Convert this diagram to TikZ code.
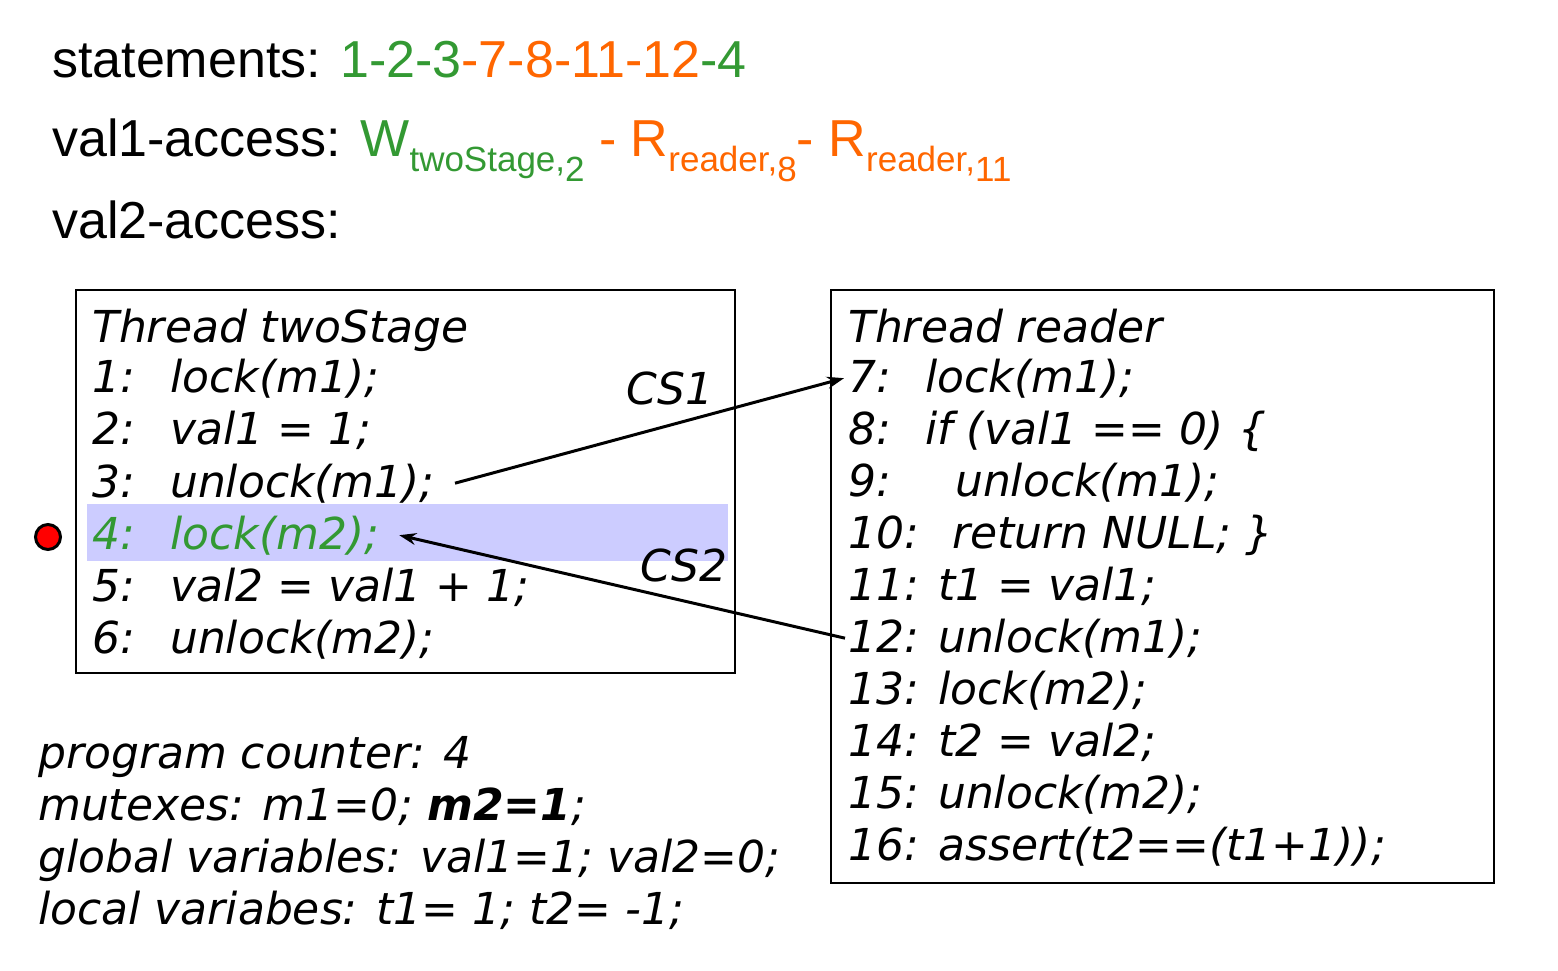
\documentclass[tikz,border=0pt]{standalone}
\usepackage{fontspec}
\setmainfont{Liberation Sans}
\newfontfamily\codefont{DejaVu Sans}
\usetikzlibrary{arrows.meta}

\definecolor{stmtgreen}{RGB}{51,153,51}
\definecolor{stmtorange}{RGB}{255,102,0}
\definecolor{curline}{RGB}{204,204,255}

\newcommand\lnum[2]{\makebox[#1pt][l]{#2}}
\newcommand\accsub[2]{\raisebox{-15pt}{\fontsize{35}{35}\selectfont #1\raisebox{-10pt}{#2}}}

\begin{document}
\begin{tikzpicture}[x=1pt,y=-1pt,
    head/.style={anchor=base west,inner sep=0pt,font=\fontsize{52}{60}\selectfont},
    code/.style={anchor=base west,inner sep=0pt,font=\codefont\itshape\fontsize{44}{52}\selectfont},
    flow/.style={line width=3pt,-{Stealth[length=17pt,width=12pt]}}]
        \useasboundingbox (0,0) rectangle (1558,971);

        % what has run so far
        \node[head] (stmts) at (52,78) {statements: {\color{stmtgreen}1-2-3}{\color{stmtorange}-7-8-11-12}{\color{stmtgreen}-4}};
        \node[head] (acc1) at (52,157) {val1-access: {\color{stmtgreen}W\accsub{twoStage,}{2}} {\color{stmtorange}- R\accsub{reader,}{8}- R\accsub{reader,}{11}}};
        \node[head] (acc2) at (52,238) {val2-access:};

        % thread twoStage
        \fill[curline] (87,504) rectangle (728,561);
        \draw[line width=1.5pt] (76,290) rectangle (735,673);
        \filldraw[fill=red,draw=black,line width=3pt] (48,537) circle (12.5pt);
        \node[code] (ttwo) at (92,342) {Thread twoStage};
        \node[code] (l1) at (92,392) {\lnum{78}{1:}lock(m1);};
        \node[code] (l2) at (92,444) {\lnum{78}{2:}val1 = 1;};
        \node[code] (l3) at (92,497) {\lnum{78}{3:}unlock(m1);};
        \node[code,text=stmtgreen] (l4) at (92,549) {\lnum{78}{4:}lock(m2);};
        \node[code] (l5) at (92,601) {\lnum{78}{5:}val2 = val1 + 1;};
        \node[code] (l6) at (92,653) {\lnum{78}{6:}unlock(m2);};

        % thread reader
        \draw[line width=1.5pt] (831,290) rectangle (1494,883);
        \node[code] (trd) at (848,342) {Thread reader};
        \node[code] (l7) at (848,392) {\lnum{77}{7:}lock(m1);};
        \node[code] (l8) at (848,444) {\lnum{77}{8:}if (val1 == 0) \{};
        \node[code] (l9) at (848,496) {\lnum{107}{9:}unlock(m1);};
        \node[code] (l10) at (848,548) {\lnum{104}{10:}return NULL; \}};
        \node[code] (l11) at (848,600) {\lnum{90}{11:}t1 = val1;};
        \node[code] (l12) at (848,652) {\lnum{90}{12:}unlock(m1);};
        \node[code] (l13) at (848,704) {\lnum{90}{13:}lock(m2);};
        \node[code] (l14) at (848,756) {\lnum{90}{14:}t2 = val2;};
        \node[code] (l15) at (848,808) {\lnum{90}{15:}unlock(m2);};
        \node[code] (l16) at (848,860) {\lnum{90}{16:}assert(t2==(t1+1));};

        % context switches
        \draw[flow] ([xshift=20pt]l3.east) -- ([xshift=-4pt]l7.west);
        \draw[flow] ([xshift=-3pt]l12.west) -- ([xshift=20pt]l4.east);
        \node[code] (cs1) at (626,404) {CS1};
        \node[code] (cs2) at (640,581) {CS2};

        % state
        \node[code] (pc) at (38,768) {program counter: 4};
        \node[code] (mtx) at (38,820) {mutexes: m1=0; {\bfseries m2=1};};
        \node[code] (glob) at (38,872) {global variables: val1=1; val2=0;};
        \node[code] (loc) at (38,924) {local variabes: t1= 1; t2= -1;};
      \end{tikzpicture}
\end{document}
